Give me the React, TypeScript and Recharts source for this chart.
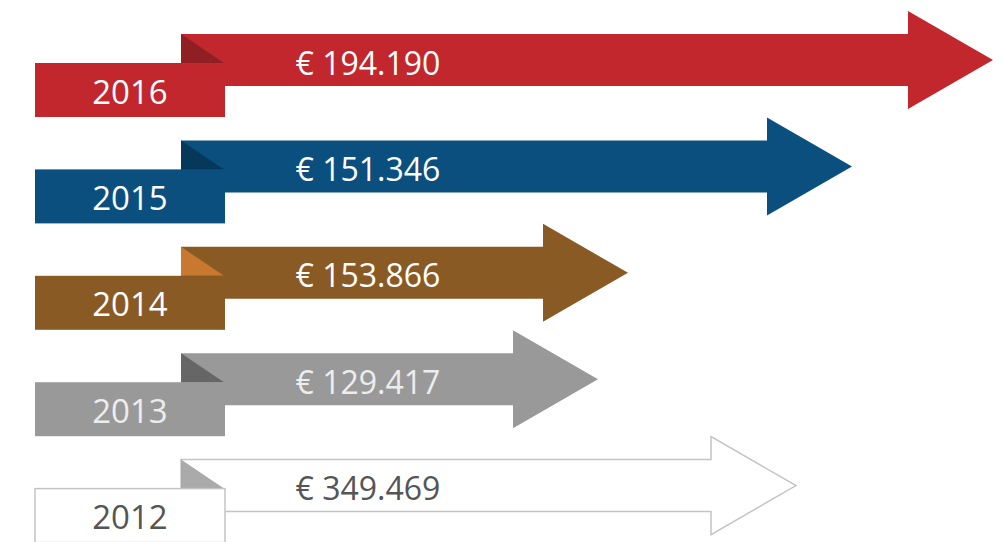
import React from "react";
import { BarChart, Bar, XAxis, YAxis } from "recharts";

// ---- data ----
const years = ["2016", "2015", "2014", "2013", "2012"];
const amounts = [194190, 151346, 153866, 129417, 349469];
// arrow length (tip position) as drawn in the infographic, arbitrary units
const arrowLength = [812, 671, 447, 417, 615];

// ---- styles (not data) ----
const palette = [
  { fill: "#C1272D", fold: "#8F1F22", text: "#FFFFFF", stroke: "none" },
  { fill: "#0A4F7E", fold: "#06385A", text: "#FFFFFF", stroke: "none" },
  { fill: "#8A5A25", fold: "#C8782F", text: "#FFFFFF", stroke: "none" },
  { fill: "#999999", fold: "#666666", text: "#EDEDED", stroke: "none" },
  { fill: "#FFFFFF", fold: "#AAAAAA", text: "#555555", stroke: "#C4C4C4" },
];

const formatEuro = (v: number) => {
  const s = String(v);
  const parts: string[] = [];
  for (let i = s.length; i > 0; i -= 3) parts.unshift(s.slice(Math.max(0, i - 3), i));
  return "€ " + parts.join(".");
};

const data = years.map((y, i) => ({
  year: y,
  amount: amounts[i],
  length: arrowLength[i],
  idx: i,
}));

const FONT = "'Open Sans', 'DejaVu Sans', sans-serif";

const ArrowShape = (props: any) => {
  const { x, y, width, height, payload } = props;
  const p = palette[payload.idx];
  const cy = y + height / 2;
  const half = 26;
  const headHalf = 49;
  const headLen = 85;
  const L = width;
  const pts = [
    [x, cy - half],
    [x + L - headLen, cy - half],
    [x + L - headLen, cy - headHalf],
    [x + L, cy],
    [x + L - headLen, cy + headHalf],
    [x + L - headLen, cy + half],
    [x, cy + half],
  ]
    .map((q) => q.join(","))
    .join(" ");
  const sw = p.stroke === "none" ? 0 : 1.5;
  return (
    <g>
      <polygon points={pts} fill={p.fill} stroke={p.stroke} strokeWidth={sw} />
      <polygon
        points={`${x},${cy - half} ${x},${cy + 3} ${x + 43},${cy + 3}`}
        fill={p.fold}
      />
      <rect
        x={x - 146}
        y={cy + 3}
        width={190}
        height={54}
        fill={p.fill}
        stroke={p.stroke}
        strokeWidth={sw}
      />
      <text
        x={x + 187}
        y={cy + 2}
        textAnchor="middle"
        dominantBaseline="central"
        fill={p.text}
        fontFamily={FONT}
        fontSize={32}
      >
        {formatEuro(payload.amount)}
      </text>
      <text
        x={x - 51}
        y={cy + 31}
        textAnchor="middle"
        dominantBaseline="central"
        fill={p.text}
        fontFamily={FONT}
        fontSize={33}
      >
        {payload.year}
      </text>
    </g>
  );
};

export default function App() {
  return (
    <div style={{ position: "absolute", left: 0, top: 0, width: 1005, height: 542, background: "#fff" }}>
      <BarChart
        width={1005}
        height={542}
        data={data}
        layout="vertical"
        margin={{ top: 7, right: 0, bottom: 3, left: 181 }}
      >
        <XAxis type="number" domain={[0, 824]} hide />
        <YAxis type="category" dataKey="year" hide width={0} />
        <Bar dataKey="length" barSize={52} isAnimationActive={false} shape={ArrowShape} />
      </BarChart>
    </div>
  );
}
